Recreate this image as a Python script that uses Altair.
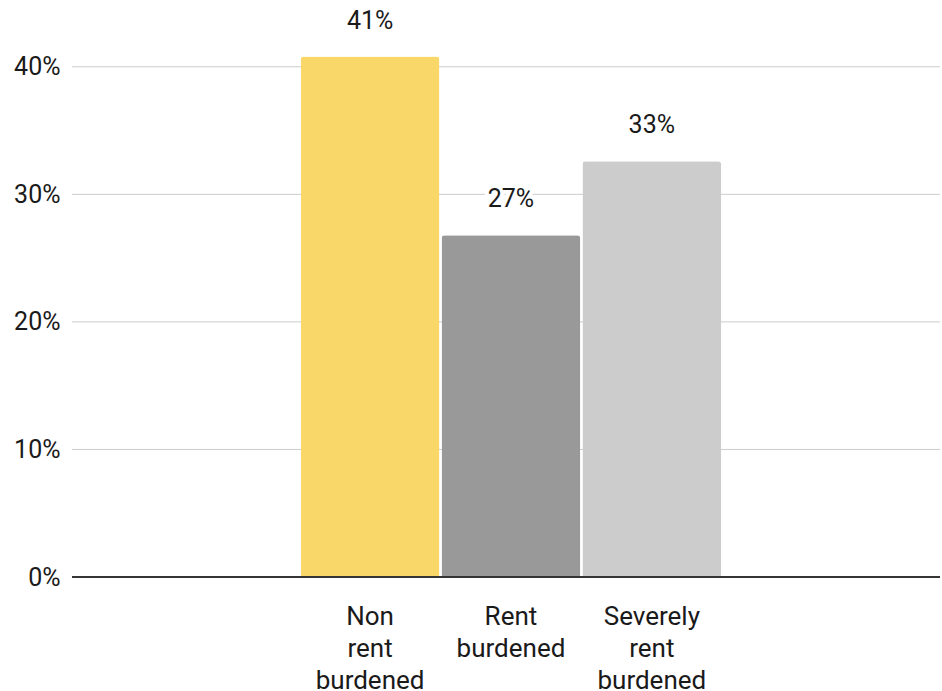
import altair as alt
import pandas as pd

# Share of households in each rent-burden group
categories = ["Non rent burdened", "Rent burdened", "Severely rent burdened"]
shares = [0.408, 0.268, 0.326]
colors = ["#F9D768", "#999999", "#CCCCCC"]
grid_values = [0.1, 0.2, 0.3, 0.4]

df = pd.DataFrame({"group": categories, "share": shares, "color": colors})
grid_df = pd.DataFrame({"share": grid_values})

FONT = "Roboto"
TEXT = "#1a1a1a"
PLOT_W = 868
PLOT_H = 574

x_enc = alt.X(
    "group:N",
    sort=categories,
    title=None,
    scale=alt.Scale(range=[228.7, 649.2], paddingInner=0.015, paddingOuter=0),
    axis=alt.Axis(
        labelAngle=0,
        labelExpr="split(datum.label, ' ')",
        labelFont=FONT,
        labelFontSize=26,
        labelColor=TEXT,
        labelLineHeight=32,
        labelPadding=26,
        labelBaseline="top",
        ticks=False,
        domain=False,
        grid=False,
    ),
)

y_scale = alt.Scale(domain=[0, 0.45], nice=False)

y_enc = alt.Y(
    "share:Q",
    title=None,
    scale=y_scale,
    axis=alt.Axis(
        values=[0, 0.1, 0.2, 0.3, 0.4],
        format=".0%",
        labelFont=FONT,
        labelFontSize=25,
        labelColor=TEXT,
        labelPadding=12,
        ticks=False,
        domain=False,
        grid=False,
    ),
)

# horizontal gridlines across the full plot width
grid = alt.Chart(grid_df).mark_rule(color="#cccccc", strokeWidth=1).encode(
    y=alt.Y("share:Q", scale=y_scale),
    x=alt.value(0),
    x2=alt.value(PLOT_W),
)

base = alt.Chart(df).encode(x=x_enc, y=y_enc)

bars = base.mark_bar(cornerRadiusTopLeft=3, cornerRadiusTopRight=3).encode(
    color=alt.Color("color:N", scale=None)
)

# dark baseline across the full plot width
baseline = alt.Chart(df).mark_rule(color="#333333", strokeWidth=1.5).encode(
    y=alt.datum(0),
    x=alt.value(0),
    x2=alt.value(PLOT_W),
)

halo = base.mark_text(
    dy=-36, baseline="middle", font=FONT, fontSize=25,
    stroke="white", strokeWidth=8, fill="white",
).encode(text=alt.Text("share:Q", format=".0%"))

labels = base.mark_text(
    dy=-36, baseline="middle", font=FONT, fontSize=25, color=TEXT,
).encode(text=alt.Text("share:Q", format=".0%"))

chart = (
    alt.layer(grid, bars, baseline, halo, labels)
    .properties(
        width=PLOT_W,
        height=PLOT_H,
        autosize=alt.AutoSizeParams(type="none"),
        padding={"left": 72, "top": 3, "right": 2, "bottom": 114},
        background="white",
    )
    .configure_view(stroke=None)
)

chart.save("out.html", embed_options={"renderer": "svg", "actions": False})
